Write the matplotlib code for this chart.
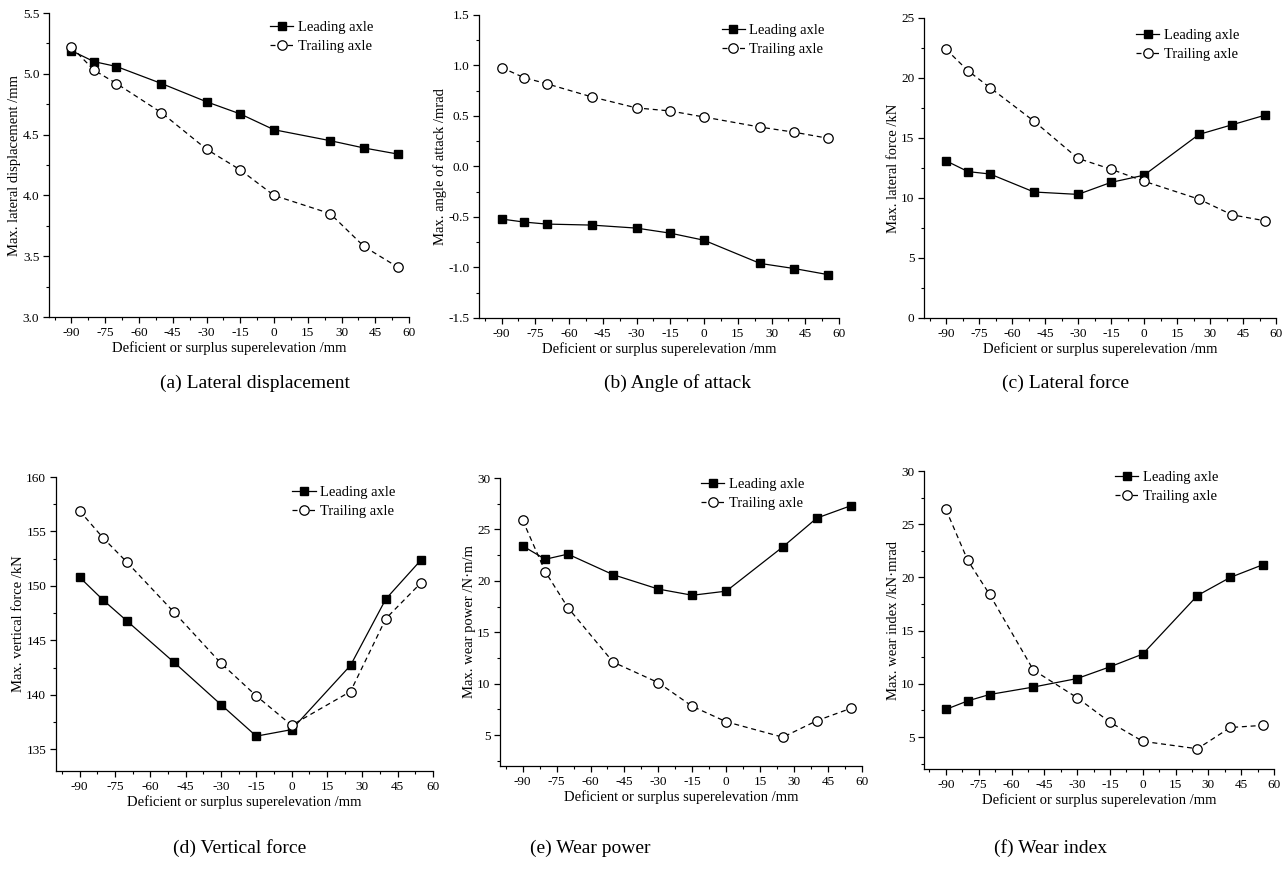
import numpy as np
import matplotlib
matplotlib.use('Agg')
from matplotlib import pyplot as plt
from matplotlib.ticker import MultipleLocator

plt.rcParams['font.family'] = ['Liberation Serif', 'DejaVu Serif']
plt.rcParams['axes.unicode_minus'] = False

W, H = 1287, 872

superelevation = [-90, -80, -70, -50, -30, -15, 0, 25, 40, 55]

lat_disp_lead = [5.19, 5.10, 5.06, 4.92, 4.77, 4.67, 4.54, 4.45, 4.39, 4.34]
lat_disp_trail = [5.22, 5.03, 4.92, 4.68, 4.38, 4.21, 4.00, 3.85, 3.58, 3.41]

aoa_lead = [-0.52, -0.55, -0.57, -0.58, -0.61, -0.66, -0.73, -0.96, -1.01, -1.07]
aoa_trail = [0.98, 0.88, 0.82, 0.69, 0.58, 0.55, 0.49, 0.39, 0.34, 0.28]

lat_force_lead = [13.1, 12.2, 12.0, 10.5, 10.3, 11.3, 11.9, 15.3, 16.1, 16.9]
lat_force_trail = [22.4, 20.6, 19.2, 16.4, 13.3, 12.4, 11.4, 9.9, 8.6, 8.1]

vert_force_lead = [150.8, 148.7, 146.8, 143.0, 139.1, 136.2, 136.8, 142.7, 148.8, 152.4]
vert_force_trail = [156.9, 154.4, 152.2, 147.6, 142.9, 139.9, 137.2, 140.3, 147.0, 150.3]

wear_power_lead = [23.4, 22.1, 22.6, 20.6, 19.2, 18.6, 19.0, 23.3, 26.1, 27.3]
wear_power_trail = [25.9, 20.9, 17.4, 12.1, 10.1, 7.8, 6.3, 4.8, 6.4, 7.6]

wear_index_lead = [7.6, 8.4, 9.0, 9.7, 10.5, 11.6, 12.8, 18.3, 20.0, 21.2]
wear_index_trail = [26.4, 21.6, 18.4, 11.3, 8.7, 6.4, 4.6, 3.9, 5.9, 6.1]

ylabels = ['Max. lateral displacement /mm', 'Max. angle of attack /mrad',
           'Max. lateral force /kN', 'Max. vertical force /kN',
           'Max. wear power /N\u00b7m/m', 'Max. wear index /kN\u00b7mrad']
captions = ['(a) Lateral displacement', '(b) Angle of attack', '(c) Lateral force',
            '(d) Vertical force', '(e) Wear power', '(f) Wear index']
leads = [lat_disp_lead, aoa_lead, lat_force_lead, vert_force_lead, wear_power_lead, wear_index_lead]
trails = [lat_disp_trail, aoa_trail, lat_force_trail, vert_force_trail, wear_power_trail, wear_index_trail]

# layout in pixels: left, right, top, bottom
boxes = [(49, 409, 13, 317), (479, 839, 15, 318), (924, 1276, 18, 318),
         (56, 433, 477, 771), (500, 862, 478, 766), (924, 1274, 471, 769)]
ylims = [(3.0, 5.5), (-1.5, 1.5), (0, 25), (133, 160), (2, 30), (2, 30)]
ymajor = [0.5, 0.5, 5, 5, 5, 5]
yticks_from = [3.0, -1.5, 0, 135, 5, 5]
yfmt = ['%.1f', '%.1f', '%d', '%d', '%d', '%d']
leg_anchor = [(0.90, 0.975), (0.96, 0.97), (0.895, 0.965), (0.90, 0.97), (0.84, 1.0), (0.84, 1.0)]
cap_pos = [(255, 383), (678, 383), (1066, 383), (240, 848), (590, 848), (1050, 848)]

fig = plt.figure(figsize=(W / 100, H / 100), dpi=100)

for i in range(6):
    l, r, t, b = boxes[i]
    ax = fig.add_axes([l / W, 1 - b / H, (r - l) / W, (b - t) / H])
    ax.plot(superelevation, leads[i], color='black', lw=0.9, marker='s', ms=6.3,
            mfc='black', mec='black', label='Leading axle')
    ax.plot(superelevation, trails[i], color='black', lw=0.9, ls=(0, (4, 3)), marker='o', ms=6.8,
            mfc='white', mec='black', mew=0.9, label='Trailing axle')
    ax.set_xlim(-100, 60)
    ax.set_ylim(*ylims[i])
    ax.set_xticks(np.arange(-90, 61, 15))
    ax.xaxis.set_minor_locator(MultipleLocator(7.5))
    yt = np.arange(yticks_from[i], ylims[i][1] + 1e-9, ymajor[i])
    ax.set_yticks(yt)
    ax.set_yticklabels([yfmt[i] % v for v in yt])
    ax.yaxis.set_minor_locator(MultipleLocator(ymajor[i] / 2))
    ax.spines['top'].set_visible(False)
    ax.spines['right'].set_visible(False)
    for s in ['left', 'bottom']:
        ax.spines[s].set_linewidth(0.9)
    ax.tick_params(which='major', direction='out', length=4, width=0.9, labelsize=9.5, pad=3)
    ax.tick_params(which='minor', direction='out', length=2.5, width=0.8)
    ax.set_xlabel('Deficient or surplus superelevation /mm', fontsize=10.5, labelpad=2)
    ax.set_ylabel(ylabels[i], fontsize=10.5, labelpad=1)
    ax.legend(loc='upper right', bbox_to_anchor=leg_anchor[i], frameon=False, fontsize=10.5,
              borderpad=0, borderaxespad=0, handlelength=1.6, handletextpad=0.3, labelspacing=0.4)
    cx, cy = cap_pos[i]
    fig.text(cx / W, 1 - cy / H, captions[i], ha='center', va='center', fontsize=14)

plt.savefig('out.png', dpi=100)
